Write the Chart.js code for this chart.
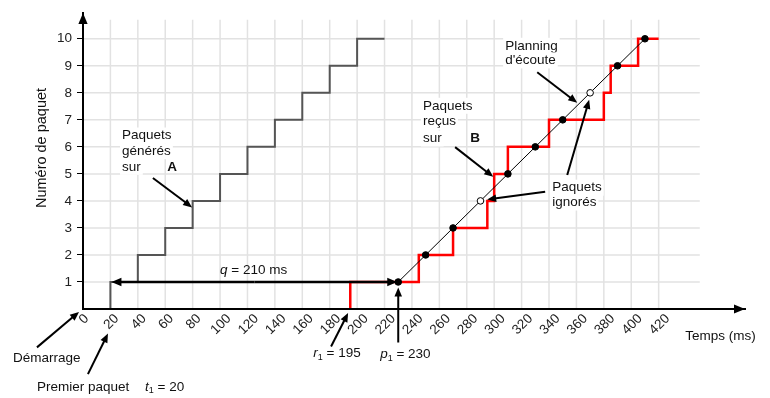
<!DOCTYPE html>
<html>
<head>
<meta charset="utf-8">
<script src="https://cdn.jsdelivr.net/npm/chart.js@4/dist/chart.umd.min.js"></script>
<style>
  html, body { margin: 0; background: #fff; }
  #wrap { width: 770px; height: 398px; }
</style>
</head>
<body>
<div id="wrap"><canvas id="graphe"></canvas></div>
<script>
// données
const xTicks = [0, 20, 40, 60, 80, 100, 120, 140, 160, 180, 200, 220, 240, 260, 280, 300, 320, 340, 360, 380, 400, 420];
const yTicks = [1, 2, 3, 4, 5, 6, 7, 8, 9, 10];
const paquets = [1, 2, 3, 4, 5, 6, 7, 8, 9, 10];
const tempsGeneres = [20, 40, 60, 80, 100, 120, 140, 160, 180, 200];
const finGeneres = 220;
const tempsRecus = [195, 245, 270, 295, 300, 310, 340, 380, 385, 405];
const finRecus = 420;
const planning = [230, 250, 270, 290, 310, 330, 350, 370, 390, 410];

const police = 'Arial, "Liberation Sans", sans-serif';
const taille = 13.5;

const genere = [{ x: tempsGeneres[0], y: 0 }]
  .concat(paquets.map((n, i) => ({ x: tempsGeneres[i], y: n })))
  .concat([{ x: finGeneres, y: paquets[paquets.length - 1] }]);

const recu = [{ x: tempsRecus[0], y: 0 }]
  .concat(paquets.map((n, i) => ({ x: tempsRecus[i], y: n })))
  .concat([{ x: finRecus, y: paquets[paquets.length - 1] }]);

const ecoute = paquets.map((n, i) => ({ x: planning[i], y: n }));
const remplissage = paquets.map((n, i) => tempsRecus[i] <= planning[i] ? "#000" : "#fff");

function fleche(ctx, x1, y1, x2, y2, largeur, tete) {
  const a = Math.atan2(y2 - y1, x2 - x1);
  const L = tete || 9, W = (tete || 9) * 0.42;
  ctx.save();
  ctx.strokeStyle = "#000";
  ctx.fillStyle = "#000";
  ctx.lineWidth = largeur || 2;
  ctx.beginPath();
  ctx.moveTo(x1, y1);
  ctx.lineTo(x2 - Math.cos(a) * L * 0.8, y2 - Math.sin(a) * L * 0.8);
  ctx.stroke();
  ctx.beginPath();
  ctx.moveTo(x2, y2);
  ctx.lineTo(x2 - Math.cos(a) * L + Math.sin(a) * W, y2 - Math.sin(a) * L - Math.cos(a) * W);
  ctx.lineTo(x2 - Math.cos(a) * L - Math.sin(a) * W, y2 - Math.sin(a) * L + Math.cos(a) * W);
  ctx.closePath();
  ctx.fill();
  ctx.restore();
}

// texte avec morceaux (italique, indice, gras)
function texte(ctx, x, y, morceaux, fond) {
  ctx.save();
  ctx.textBaseline = "middle";
  ctx.textAlign = "left";
  let cx = x;
  const fonte = m => (m.gras ? "bold " : "") + (m.ital ? "italic " : "") + (m.sub ? "9px " : taille + "px ") + police;
  const mesures = morceaux.map(m => {
    ctx.font = fonte(m);
    return ctx.measureText(m.t).width;
  });
  if (fond) {
    const w = mesures.reduce((a, b) => a + b, 0);
    ctx.fillStyle = "#fff";
    ctx.fillRect(x - 2, y - 8, w + 4, 16);
  }
  morceaux.forEach((m, i) => {
    ctx.font = fonte(m);
    ctx.fillStyle = "#111";
    ctx.fillText(m.t, cx, m.sub ? y + 4 : y);
    cx += mesures[i];
  });
  ctx.restore();
}

const decor = {
  id: "decor",
  beforeDraw(chart) {
    const ctx = chart.ctx, xs = chart.scales.x, ys = chart.scales.y;
    ctx.save();
    ctx.strokeStyle = "#e2e2e2";
    ctx.lineWidth = 1.5;
    xTicks.slice(1).forEach(v => {
      ctx.beginPath();
      ctx.moveTo(xs.getPixelForValue(v), ys.getPixelForValue(0));
      ctx.lineTo(xs.getPixelForValue(v), ys.getPixelForValue(10.7));
      ctx.stroke();
    });
    yTicks.forEach(v => {
      ctx.beginPath();
      ctx.moveTo(xs.getPixelForValue(0), ys.getPixelForValue(v));
      ctx.lineTo(xs.getPixelForValue(450), ys.getPixelForValue(v));
      ctx.stroke();
    });
    ctx.restore();
  },
  afterDraw(chart) {
    const ctx = chart.ctx, xs = chart.scales.x, ys = chart.scales.y;
    const X = v => xs.getPixelForValue(v), Y = v => ys.getPixelForValue(v);
    const a = chart.chartArea;

    // étiquettes de l'axe x, tournées à 45° et centrées sous la graduation
    ctx.save();
    ctx.font = taille + "px " + police;
    ctx.fillStyle = "#222";
    ctx.textAlign = "center";
    ctx.textBaseline = "middle";
    xTicks.forEach(v => {
      const t = String(v);
      const w = ctx.measureText(t).width;
      ctx.save();
      ctx.translate(X(v) + 1, a.bottom + 4 + 0.354 * (w + 10));
      ctx.rotate(-Math.PI / 4);
      ctx.fillText(t, 0, 0);
      ctx.restore();
    });
    ctx.restore();

    // flèches des axes
    fleche(ctx, a.left, a.bottom, a.right, a.bottom, 2, 11);
    fleche(ctx, a.left, a.bottom, a.left, a.top, 2, 11);

    // q = 210 ms
    fleche(ctx, X(125), Y(1), X(20) + 1, Y(1), 2.5, 10);
    fleche(ctx, X(125), Y(1), X(230) - 1, Y(1), 2.5, 10);
    texte(ctx, X(100), Y(1.42), [{ t: "q", ital: true }, { t: " = 210 ms" }]);

    // paquets générés sur A
    texte(ctx, X(28.5), Y(6.42), [{ t: "Paquets" }], true);
    texte(ctx, X(28.5), Y(5.84), [{ t: "générés" }], true);
    texte(ctx, X(28.5), Y(5.26), [{ t: "sur" }], true);
    texte(ctx, X(61.5), Y(5.26), [{ t: "A", gras: true }]);
    fleche(ctx, X(51), Y(4.85), X(79.6), Y(3.76), 2, 9);

    // paquets reçus sur B
    texte(ctx, X(248), Y(7.52), [{ t: "Paquets" }], true);
    texte(ctx, X(248), Y(6.93), [{ t: "reçus" }], true);
    texte(ctx, X(248), Y(6.31), [{ t: "sur" }], true);
    texte(ctx, X(282.5), Y(6.31), [{ t: "B", gras: true }]);
    fleche(ctx, X(271.5), Y(5.99), X(299.3), Y(4.89), 2, 9);

    // planning d'écoute
    texte(ctx, X(308), Y(9.74), [{ t: "Planning" }], true);
    texte(ctx, X(308), Y(9.2), [{ t: "d'écoute" }], true);
    fleche(ctx, X(331.4), Y(8.76), X(360.6), Y(7.63), 2, 9);

    // paquets ignorés
    texte(ctx, X(342.3), Y(4.49), [{ t: "Paquets" }], true);
    texte(ctx, X(342.3), Y(3.94), [{ t: "ignorés" }], true);
    fleche(ctx, X(337.2), Y(4.34), X(294.9), Y(4.05), 2, 9);
    fleche(ctx, X(353.3), Y(4.96), X(369.3), Y(7.74), 2, 9);

    // sous l'axe
    texte(ctx, X(-51), Y(-1.82), [{ t: "Démarrage" }]);
    fleche(ctx, X(-33.6), Y(-1.42), X(-2.9), Y(-0.11), 2, 9);
    texte(ctx, X(-33.6), Y(-2.88), [{ t: "Premier paquet" }]);
    texte(ctx, X(45.3), Y(-2.88), [{ t: "t", ital: true }, { t: "1", sub: true }, { t: " = 20" }]);
    fleche(ctx, X(3.6), Y(-2.41), X(18.2), Y(-0.91), 2, 9);
    texte(ctx, X(168), Y(-1.64), [{ t: "r", ital: true }, { t: "1", sub: true }, { t: " = 195" }]);
    fleche(ctx, X(181), Y(-1.39), X(193.4), Y(-0.15), 2, 9);
    texte(ctx, X(216.8), Y(-1.68), [{ t: "p", ital: true }, { t: "1", sub: true }, { t: " = 230" }]);
    fleche(ctx, X(230), Y(-1.24), X(230), Y(0.8), 2, 9);

    texte(ctx, X(439.4), Y(-1.02), [{ t: "Temps (ms)" }]);

    // titre axe y
    ctx.save();
    ctx.translate(42, 148);
    ctx.rotate(-Math.PI / 2);
    ctx.font = "14.5px " + police;
    ctx.fillStyle = "#111";
    ctx.textAlign = "center";
    ctx.textBaseline = "middle";
    ctx.fillText("Numéro de paquet", 0, 0);
    ctx.restore();
  }
};

new Chart(document.getElementById("graphe"), {
  type: "line",
  data: {
    datasets: [
      {
        label: "Planning d'écoute",
        data: ecoute,
        borderColor: "#000",
        borderWidth: 1,
        pointRadius: 3.3,
        pointBorderWidth: 1,
        pointBorderColor: "#000",
        pointBackgroundColor: remplissage,
        order: 1
      },
      {
        label: "Paquets reçus sur B",
        data: recu,
        stepped: true,
        borderColor: "#ff0000",
        borderWidth: 2.5,
        pointRadius: 0,
        order: 2
      },
      {
        label: "Paquets générés sur A",
        data: genere,
        stepped: true,
        borderColor: "#555",
        borderWidth: 2,
        pointRadius: 0,
        order: 3
      }
    ]
  },
  options: {
    responsive: true,
    maintainAspectRatio: false,
    animation: false,
    layout: { padding: { top: 9, right: 25, left: 0, bottom: 0 } },
    plugins: {
      legend: { display: false },
      tooltip: { enabled: false }
    },
    scales: {
      x: {
        type: "linear",
        min: 0,
        max: 483,
        afterBuildTicks: s => { s.ticks = xTicks.map(v => ({ value: v })); },
        afterFit: s => { s.height = 89; },
        grid: { display: false },
        border: { display: true, color: "#000", width: 2 },
        ticks: { display: false }
      },
      y: {
        type: "linear",
        min: 0,
        max: 10.95,
        afterBuildTicks: s => { s.ticks = yTicks.map(v => ({ value: v })); },
        afterFit: s => { s.width = 83; },
        grid: { display: true, drawOnChartArea: false, color: "#000", tickLength: 6, lineWidth: 1 },
        border: { display: true, color: "#000", width: 2 },
        ticks: {
          color: "#222",
          padding: 5,
          font: { family: police, size: taille }
        }
      }
    }
  },
  plugins: [decor]
});
</script>
</body>
</html>
